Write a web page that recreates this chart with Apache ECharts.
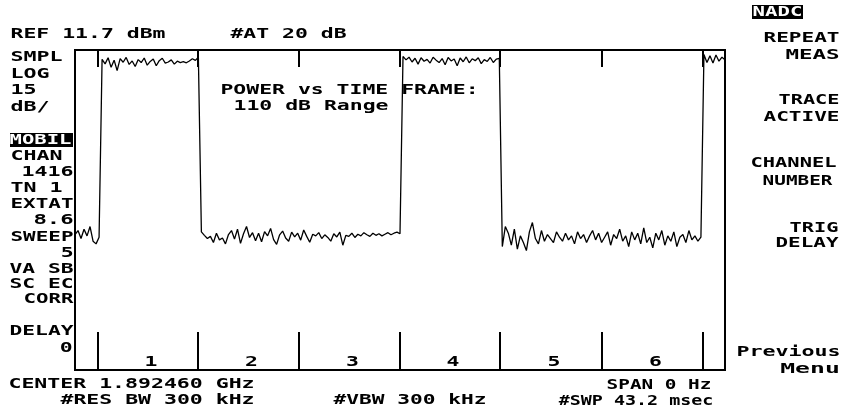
<!DOCTYPE html>
<html><head><meta charset="utf-8">
<script src="https://cdn.jsdelivr.net/npm/echarts@6/dist/echarts.min.js"></script>
<style>html,body{margin:0;padding:0;background:#fff}#c{width:843px;height:410px}</style>
</head><body><div id="c"></div>
<script>
// ---- data ----
const sweepMs = 43.2;           // #SWP 43.2 msec
const refLevelDbm = 11.7;       // REF 11.7 dBm
const dbPerDiv = 15;            // LOG 15 dB/
const verticalDivs = 8;
const slotBoundariesMs = [1.53, 8.17, 14.89, 21.6, 28.25, 35.03, 41.74];
const slotNames = ['1', '2', '3', '4', '5', '6'];
// trace, dBm, equally spaced samples across the sweep
const traceDbm = [
  // before slot 1 (off)
  -57.5, -56.0, -59.0, -55.5, -58.0, -54.5, -60.0, -61.0, -58.5,
  // burst (on)
  8.2, 6.5, 8.8, 5.2, 7.9, 4.0, 8.5, 7.1, 8.9, 6.3, 7.6, 5.5, 8.1, 7.0, 8.7, 6.0, 7.4, 8.3, 5.8, 7.7,
  8.6, 6.8, 7.2, 8.0, 6.4, 7.5, 7.0, 7.3, 6.9, 7.6, 8.4, 7.8, 9.0,
  // off
  -56.5, -57.8, -59.0, -58.2, -60.5, -57.0, -59.5, -58.8, -61.0, -57.5,
  -56.0, -59.2, -55.5, -60.8, -57.2, -54.5, -58.6, -56.8, -59.8, -57.0,
  -60.2, -56.4, -58.0, -55.2, -59.4, -61.2, -57.6, -56.2, -58.8, -60.0,
  -56.6, -58.4, -57.0, -59.6, -55.8, -58.2, -60.4, -57.4, -58.0, -56.8,
  -59.0, -57.6, -58.6, -60.0, -57.2, -58.4, -56.6, -61.5, -57.8, -58.2,
  -57.0, -58.6, -57.4, -58.0, -56.8, -57.6, -58.2, -57.0, -57.8, -57.2,
  -58.0, -57.4, -56.8, -57.6, -57.0, -56.6, -57.2,
  // burst (on)
  9.3, 8.0, 9.0, 7.2, 8.6, 6.4, 8.8, 7.5, 8.2, 6.8, 9.0, 7.9, 7.0, 8.5, 6.2, 8.9, 7.6, 8.3, 5.8, 8.7,
  7.3, 9.1, 6.9, 8.4, 7.7, 8.8, 6.6, 8.1, 7.4, 8.9, 7.0, 8.3, 8.6,
  // off
  -62.0, -54.5, -57.0, -61.5, -55.5, -63.0, -58.0, -60.5, -63.5, -56.5,
  -53.0, -59.0, -61.0, -56.0, -60.0, -57.5, -59.0, -60.5, -56.5, -58.5,
  -60.0, -57.0, -59.5, -58.0, -61.0, -56.5, -59.0, -57.5, -60.5, -58.0,
  -56.0, -59.5, -57.0, -60.5, -58.5, -56.5, -61.5, -57.5, -59.0, -55.5,
  -60.0, -58.0, -62.0, -56.5, -59.5, -57.0, -61.0, -55.0, -60.5, -58.5,
  -62.5, -57.0, -59.5, -56.0, -61.5, -58.0, -60.0, -56.5, -62.0, -58.5,
  -57.5, -60.5, -56.0, -59.5, -58.0, -60.0, -58.5,
  // burst (on)
  10.0, 7.0, 9.5, 6.8, 9.8, 7.5, 9.0, 8.0
];

// ---- screen annotation layout ----
const FS = 14;
const FONT_FAMILY = '"DejaVu Sans Mono", "Liberation Mono", monospace';
const FONT = 'bold ' + FS + 'px ' + FONT_FAMILY;
const ADV = 0.602 * FS;
const DEFAULT_SCALE = 1.53;
// [text, left, right, centerY]; left null => right aligned with default scale
const annotations = [
  ['REF 11.7 dBm', 12, 164, 34],
  ['#AT 20 dB', 232, 345, 34],
  ['POWER vs TIME FRAME:', 222, 477, 90],
  ['110 dB Range', 235, 387, 106],
  ['SMPL', 12, 61, 57],
  ['LOG', 12, 48, 74],
  ['15', 12, 35, 90],
  ['dB/', 12, 48, 107],
  ['CHAN', 12, 61, 156],
  ['1416', 23, 72, 172],
  ['TN 1', 12, 61, 188],
  ['EXTAT', 12, 72, 204],
  ['8.6', 35, 72, 220],
  ['SWEEP', 12, 72, 237],
  ['5', null, 72, 253],
  ['VA SB', 11, 72, 269],
  ['SC EC', 11, 72, 284],
  ['CORR', 25, 72, 299],
  ['DELAY', 11, 72, 331],
  ['0', null, 71, 348],
  ['REPEAT', 765, 838, 38],
  ['MEAS', 787, 838, 55],
  ['TRACE', 780, 838, 100],
  ['ACTIVE', 765, 838, 117],
  ['CHANNEL', 752, 835, 163],
  ['NUMBER', 764, 831, 181],
  ['TRIG', 791, 837, 228],
  ['DELAY', 777, 837, 243],
  ['Previous', 738, 839, 352],
  ['Menu', 782, 838, 369],
  ['CENTER 1.892460 GHz', 10, 253, 384],
  ['#RES BW 300 kHz', 62, 253, 400],
  ['#VBW 300 kHz', 335, 485, 400],
  ['SPAN 0 Hz', 608, 710, 385],
  ['#SWP 43.2 msec', 560, 712, 401]
];
// inverse video labels: [text, boxLeft, boxTop, boxRight, boxBottom, textLeft, textRight]
const inverseLabels = [
  ['MOBIL', 10, 133, 73, 147, 11, 70],
  ['NADC', 752, 5, 803, 19, 754, 801]
];

function textEl(t, l, r, y, fill) {
  const n = t.length;
  let s, x, align;
  if (l === null) {
    s = DEFAULT_SCALE; x = r + s; align = 'right';
  } else {
    s = (r - l) / (n * ADV - 2);
    x = l - s; align = 'left';
  }
  return {
    type: 'text', x: x, y: y, scaleX: s, scaleY: 1, silent: true,
    style: {
      text: t, x: 0, y: 0, fill: fill || '#000', font: FONT,
      textAlign: align, textVerticalAlign: 'middle'
    }
  };
}

const graphics = [];
annotations.forEach(a => graphics.push(textEl(a[0], a[1], a[2], a[3])));
inverseLabels.forEach(a => {
  graphics.push({
    type: 'rect', silent: true,
    shape: { x: a[1], y: a[2], width: a[3] - a[1], height: a[4] - a[2] },
    style: { fill: '#000' }
  });
  graphics.push(textEl(a[0], a[5], a[6], (a[2] + a[4]) / 2, '#fff'));
});

const yMax = refLevelDbm;
const yMin = refLevelDbm - dbPerDiv * verticalDivs;
const dt = sweepMs / (traceDbm.length - 1);
const traceData = traceDbm.map((v, i) => [i * dt, v]);
const slotLabelData = slotNames.map((name, i) =>
  [(slotBoundariesMs[i] + slotBoundariesMs[i + 1]) / 2, yMin + 3]);

const chart = echarts.init(document.getElementById('c'), null, { renderer: 'canvas' });
chart.setOption({
  animation: false,
  backgroundColor: '#fff',
  grid: {
    left: 75, top: 50, width: 650, height: 320,
    show: true, borderColor: '#000', borderWidth: 2, backgroundColor: 'transparent'
  },
  xAxis: [
    {
      type: 'value', min: 0, max: sweepMs, position: 'bottom',
      axisLine: { show: false, onZero: false }, axisLabel: { show: false }, splitLine: { show: false },
      axisTick: { show: true, inside: true, length: 38, customValues: slotBoundariesMs,
        lineStyle: { color: '#000', width: 2 } }
    },
    {
      type: 'value', min: 0, max: sweepMs, position: 'top',
      axisLine: { show: false, onZero: false }, axisLabel: { show: false }, splitLine: { show: false },
      axisTick: { show: true, inside: true, length: 17, customValues: slotBoundariesMs,
        lineStyle: { color: '#000', width: 2 } }
    }
  ],
  yAxis: {
    type: 'value', min: yMin, max: yMax, show: false, splitLine: { show: false }
  },
  series: [
    {
      type: 'line', data: traceData, showSymbol: false, symbol: 'none',
      lineStyle: { color: '#000', width: 1.3 }, silent: true, z: 3
    },
    {
      type: 'custom', data: slotLabelData, silent: true, z: 4,
      renderItem: function (params, api) {
        const p = api.coord([api.value(0), api.value(1)]);
        return {
          type: 'text', x: p[0] + 3, y: p[1], scaleX: DEFAULT_SCALE,
          style: {
            text: slotNames[params.dataIndex], x: 0, y: 0, fill: '#000', font: FONT,
            textAlign: 'center', textVerticalAlign: 'middle'
          }
        };
      }
    }
  ],
  graphic: { elements: graphics }
});
</script>
</body></html>
